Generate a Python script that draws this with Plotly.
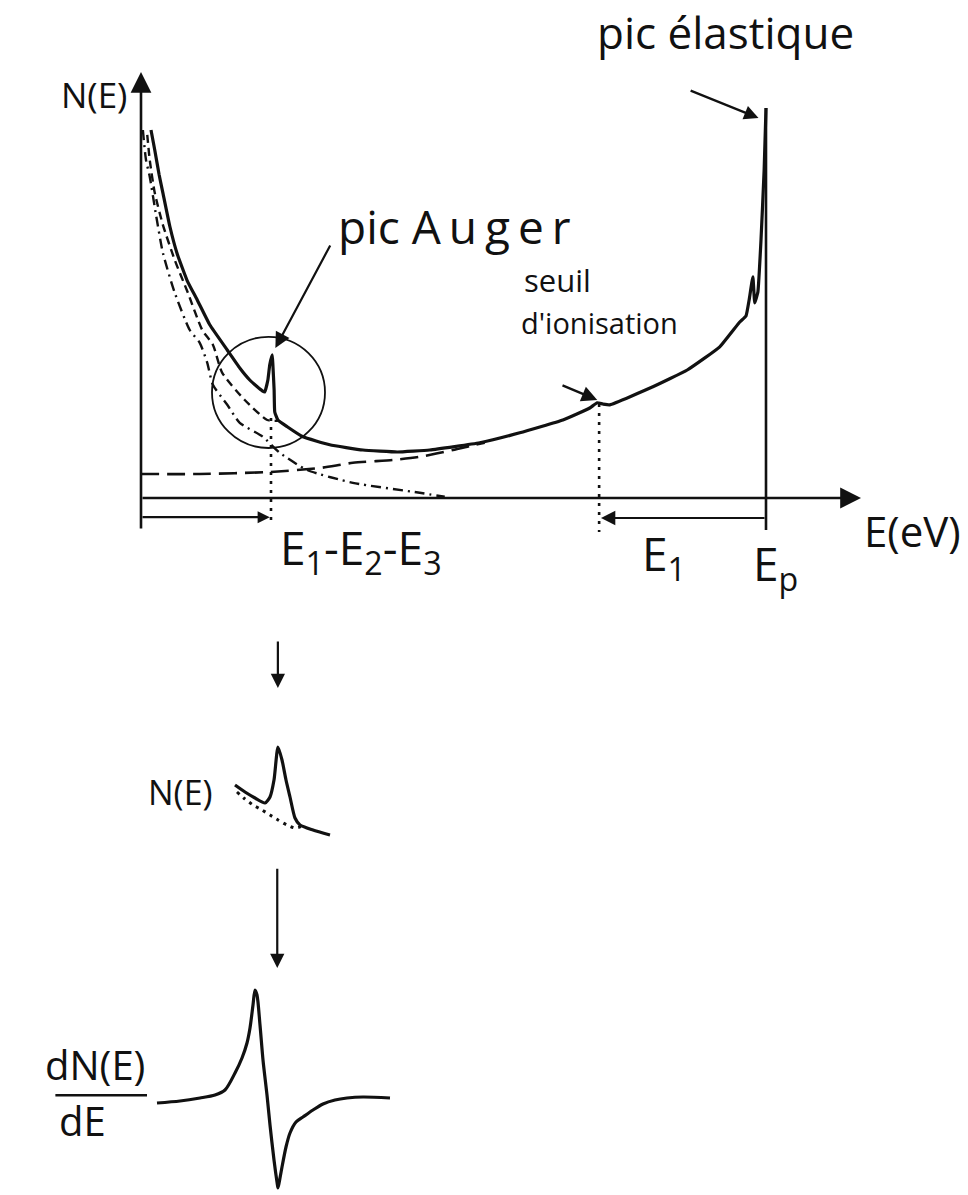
import plotly.graph_objects as go

W, H = 968, 1195

# ---------------- main spectrum N(E) (E in eV, N in arbitrary units) ----------------
E_P = 1000        # primary energy -> elastic peak
E_AUGER = 208     # Auger transition E1-E2-E3
E_ION = 733       # ionisation threshold (Ep - E1)
N_EP_TOP = 97.5

# measured spectrum (secondaries + Auger peak + losses + elastic)
E_total = [16, 22, 29, 35, 46, 58, 74, 90, 110, 138, 158, 174, 186, 194, 198, 203, 206, 210,
           211, 213, 214, 219, 234, 259, 302, 355, 410, 462, 542, 606, 675, 718, 730, 739, 750,
           819, 874, 926, 958, 968, 973, 979, 982, 987, 992, 997, 1000]
N_total = [92, 87, 80.8, 76.3, 68, 61, 54.3, 49.5, 43.3, 37, 32.5, 29.5, 27.8, 26.8, 26.5,
           29.5, 33.3, 35.8, 33.3, 27, 21.5, 19.5, 17.8, 15.3, 13.3, 12, 11.5, 12, 13.8, 16.3,
           19.5, 22.5, 23.8, 23.5, 23.3, 27.8, 32, 37.8, 44, 45.5, 49.5, 55.3, 48.8, 51.5, 64.5,
           82, N_EP_TOP]

# background under the Auger peak
E_background = [10, 14, 22, 35, 54, 75, 98, 115, 130, 166, 202, 219]
N_background = [90.8, 84.5, 76.3, 68.3, 59.5, 51.3, 42, 38.3, 31.3, 24.5, 19.5, 19.3]

# true secondary electrons
E_secondary = [3, 8, 14, 24, 35, 54, 78, 94, 106, 115, 138, 158, 195, 222, 266, 339, 446, 486]
N_secondary = [92, 84.5, 80.3, 70.8, 61.3, 51.3, 42, 38.8, 33.8, 28.3, 23.3, 18.8, 15.3, 11.3,
               7, 3.8, 1.3, 0.3]

# inelastically scattered electrons
E_inelastic = [0, 94, 206, 286, 339, 403, 446, 499, 534, 550]
N_inelastic = [6, 6, 6.5, 7.5, 8.8, 9.5, 10.3, 12, 13.3, 13.8]

# ---------------- Auger peak detail, direct mode N(E) ----------------
dE_peak = [-43, -33, -23, -13, -8, -4, 0, 4, 8, 12, 17, 22, 35, 52]
N_peak = [60, 53, 47, 42, 48, 65, 98, 85, 65, 48, 27, 20, 15, 10]
dE_peak_bg = [-41, -33, -25, -16, -8, 0, 9, 17, 25]
N_peak_bg = [53, 46, 40, 35, 30, 25, 20, 17, 19]

# ---------------- derivative mode dN(E)/dE ----------------
dE_deriv = [-121, -98, -78, -63, -53, -43, -36, -31, -28, -25, -23, -21, -18, -15, -11, -8, -4,
            -1, 0, 2, 4, 8, 12, 18, 25, 35, 45, 57, 69, 85, 112]
dNdE = [-3, -1, 2, 5, 10, 27, 42, 57, 72, 95, 110, 105, 75, 40, 5, -25, -60, -82, -88, -78, -67,
        -47, -33, -22, -17, -10, -4, 0, 2, 3, 2]

INK = "#111111"
FONT = "Open Sans, Noto Sans, DejaVu Sans, sans-serif"

fig = go.Figure()


def curve(x, y, width=3, dash="solid", xa="x", ya="y", shape="linear", smoothing=0.6):
    fig.add_trace(go.Scatter(x=x, y=y, mode="lines", xaxis=xa, yaxis=ya, hoverinfo="skip",
                             line=dict(color=INK, width=width, dash=dash, shape=shape,
                                       smoothing=smoothing)))


# main spectrum
curve(E_inelastic, N_inelastic, 2.6, "18px,8px", shape="spline")
curve(E_secondary, N_secondary, 2.4, "10px,5px,2px,5px", shape="spline")
curve(E_background, N_background, 2.4, "8px,5px", shape="spline")
curve(E_total, N_total, 3.2, shape="spline", smoothing=0.35)
curve([E_P, E_P], [N_EP_TOP, -8], 2.6)
# markers of the characteristic energies
curve([E_AUGER, E_AUGER], [20, -7], 2.6, "3px,6px")
curve([E_ION, E_ION], [23.5, -8.5], 2.6, "3px,6px")

# Auger peak, direct spectrum
curve(dE_peak, N_peak, 3.2, xa="x2", ya="y2", shape="spline")
curve(dE_peak_bg, N_peak_bg, 3, "3px,5px", xa="x2", ya="y2", shape="spline")

# derivative spectrum
curve(dE_deriv, dNdE, 3.2, xa="x3", ya="y3", shape="spline", smoothing=0.8)

ann = []


def arrow(x0, y0, x1, y1, width=2.4, size=1.4):
    # straight arrow in main-axis units, head at (x1, y1)
    ann.append(dict(x=x1, y=y1, ax=x0, ay=y0, xref="x", yref="y", axref="x", ayref="y",
                    text="", showarrow=True, arrowhead=2, arrowsize=size,
                    arrowwidth=width, arrowcolor=INK))


def label(txt, x, y, size, xanchor="left", align="left"):
    ann.append(dict(x=x, y=y, xref="x", yref="y", text=txt, showarrow=False,
                    xanchor=xanchor, yanchor="middle", align=align,
                    font=dict(family=FONT, size=size, color=INK)))


# axes
arrow(0, -8, 0, 106.5, 2.6, 1.6)
arrow(0, 0, 1152, 0, 2.6, 1.6)
# energy arrows below the axis
arrow(0, -4.8, E_AUGER - 2, -4.8, 2.2, 1.1)
arrow(E_P, -5, E_ION + 3, -5, 2.2, 1.3)
# pointers
arrow(304, 63.5, 215, 37.5, 2.2, 1.4)
arrow(672, 28.3, 730, 24.5, 2.4, 1.3)
arrow(877, 102, 988, 95, 2.2, 1.3)
# towards the detail views
arrow(219, -35.5, 219, -47.5, 2.2, 1.3)
arrow(218, -92.3, 218, -117.5, 2.2, 1.3)

label("pic élastique", 727, 116.5, 44)
label("N(E)", -20, 101, 35, xanchor="right")
label('pic <span style="letter-spacing:8px">Auger</span>', 312, 68, 46)
label("seuil", 610, 54.5, 31)
label("d'ionisation", 604, 44, 29)
label("E(eV)", 1154, -8, 42)
label("E<sub>1</sub>-E<sub>2</sub>-E<sub>3</sub>", 219, -13, 46)
label("E<sub>1</sub>", 798, -14.5, 46)
label("E<sub>p</sub>", 976, -17, 46)
label("N(E)", 118, -73.5, 34, xanchor="right")
label("dN(E)", 9.6, -141.5, 40, xanchor="right")
label("dE", -134, -155.5, 40)

shapes = [
    # region of the Auger peak
    dict(type="circle", xref="x", yref="y", x0=113.6, x1=294.4, y0=12.5, y1=40.3,
         line=dict(color=INK, width=1.8)),
    # fraction bar of dN(E)/dE
    dict(type="line", xref="x", yref="y", x0=-137, x1=9.6, y0=-149.3, y1=-149.3,
         line=dict(color=INK, width=2.6)),
]

hidden = dict(visible=False, showgrid=False, zeroline=False)
fig.update_layout(
    width=W, height=H, autosize=False,
    margin=dict(l=0, r=0, t=0, b=0),
    paper_bgcolor="white", plot_bgcolor="white",
    showlegend=False,
    xaxis=dict(domain=[0, 1], range=[-141 / 0.625, (W - 141) / 0.625], **hidden),
    yaxis=dict(domain=[0, 1], range=[-(H - 498) / 4, 498 / 4], **hidden),
    xaxis2=dict(domain=[230 / W, 340 / W], range=[-48, 62], anchor="y2", **hidden),
    yaxis2=dict(domain=[(H - 845) / H, (H - 730) / H], range=[0, 115], anchor="x2", **hidden),
    xaxis3=dict(domain=[140 / W, 400 / W], range=[-138, 122], anchor="y3", **hidden),
    yaxis3=dict(domain=[0, (H - 970) / H], range=[-95, 130], anchor="x3", **hidden),
    annotations=ann,
    shapes=shapes,
)

fig.write_html("out.html")
